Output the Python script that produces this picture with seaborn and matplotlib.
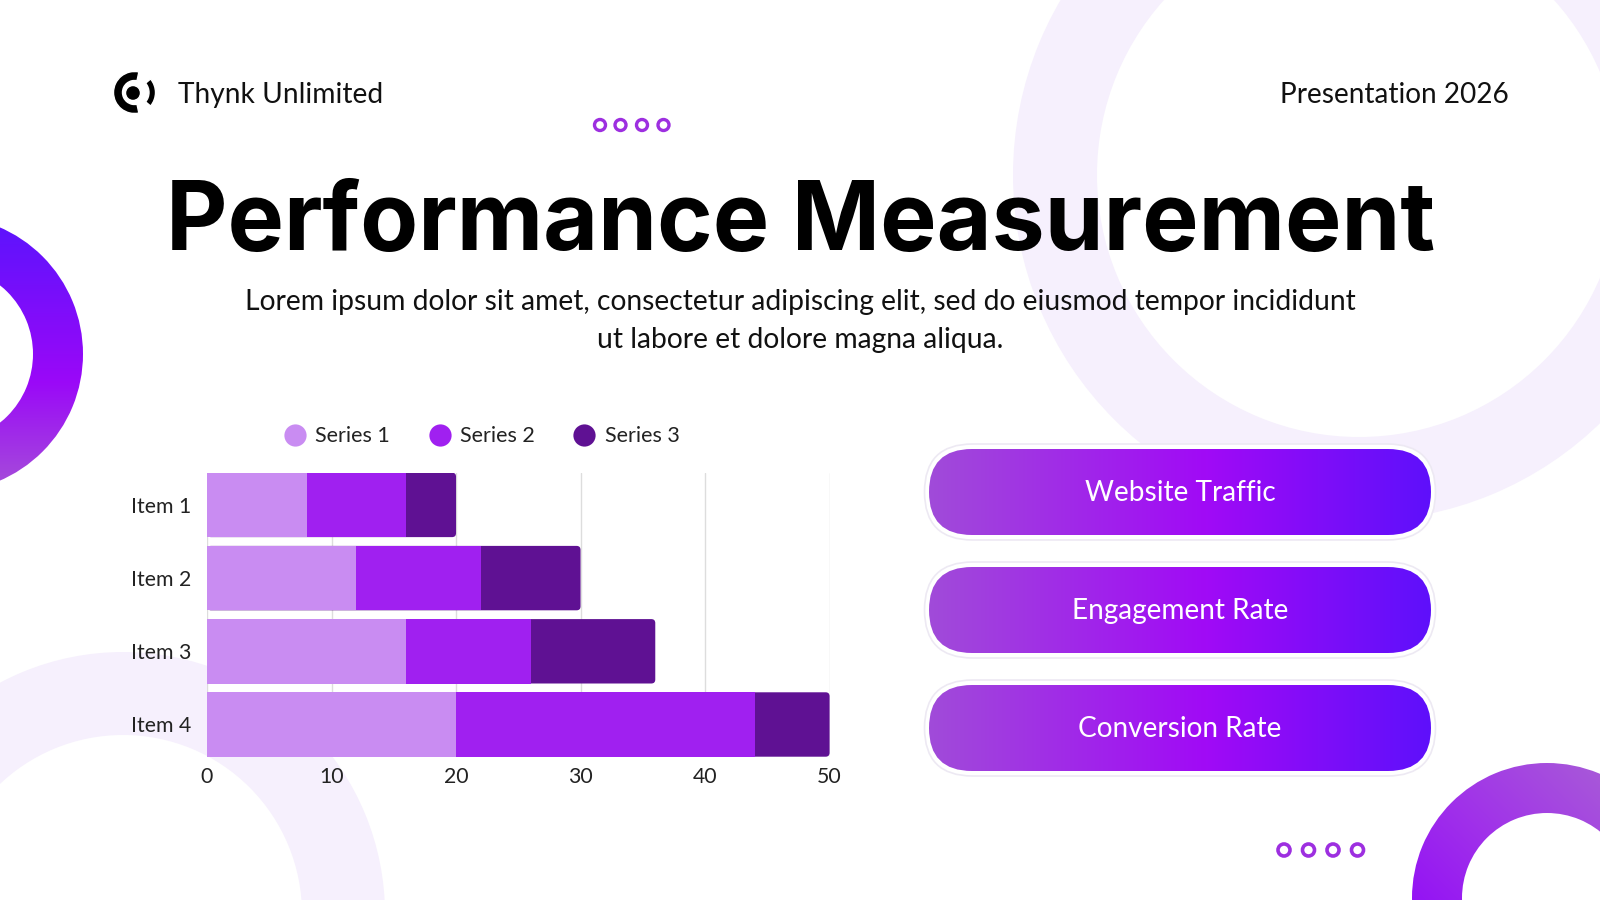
import numpy as np
import matplotlib
matplotlib.use('Agg')
import matplotlib.pyplot as plt
import seaborn as sns
from matplotlib.patches import Circle, Wedge, FancyBboxPatch
from matplotlib.lines import Line2D
from matplotlib.colors import LinearSegmentedColormap

# data
items = ['Item 1', 'Item 2', 'Item 3', 'Item 4']
series_names = ['Series 1', 'Series 2', 'Series 3']
series_1 = [8, 12, 16, 20]
series_2 = [8, 10, 10, 24]
series_3 = [4, 8, 10, 6]
x_ticks = [0, 10, 20, 30, 40, 50]
buttons = ['Website Traffic', 'Engagement Rate', 'Conversion Rate']

bar_colors = ['#c98cf2', '#a020f0', '#5f1193']
lavender = '#f6f0fd'
dot_color = '#9d2fe0'

sns.set_theme(style='white')
plt.rcParams['font.family'] = ['Lato', 'DejaVu Sans']

fig = plt.figure(figsize=(16, 9), dpi=100)
fig.patch.set_facecolor('white')

# background layer in pixel coords (y down)
bg = fig.add_axes([0, 0, 1, 1])
bg.set_zorder(0)
bg.axis('off')


def set_bg_limits():
    bg.set_aspect('auto')
    bg.set_xlim(0, 1600)
    bg.set_ylim(900, 0)


set_bg_limits()


def gradient_fill(clip, extent, stops, angle, zorder=1):
    n = 256
    xs = np.linspace(-1, 1, n)
    X, Y = np.meshgrid(xs, xs)
    ux, uy = np.cos(np.radians(angle)), np.sin(np.radians(angle))
    val = np.clip((X * ux + Y * uy + 1) / 2, 0, 1)
    cmap = LinearSegmentedColormap.from_list('g', stops)
    im = bg.imshow(val, cmap=cmap, extent=extent, origin='upper',
                   zorder=zorder, interpolation='bilinear')
    im.set_clip_path(clip)
    return im


def gradient_ring(cx, cy, r_out, r_in, stops, angle):
    ring = Wedge((cx, cy), r_out, 0, 360, width=r_out - r_in,
                 facecolor='none', edgecolor='none')
    bg.add_patch(ring)
    gradient_fill(ring, (cx - r_out, cx + r_out, cy + r_out, cy - r_out), stops, angle)


# light decorative rings
bg.add_patch(Wedge((1359, 175), 346, 0, 360, width=84, facecolor=lavender, edgecolor='none', zorder=0.5))
bg.add_patch(Wedge((123, 914), 262, 0, 360, width=83, facecolor=lavender, edgecolor='none', zorder=0.5))

# gradient rings
gradient_ring(-55, 354, 138, 88, [(0, '#5a14fd'), (0.6, '#9a08f8'), (1, '#a650d8')], 90)
gradient_ring(1547, 898, 135, 85, [(0, '#a85ad8'), (0.5, '#a030ea'), (1, '#8f08f8')], 135)

# small dot rows
for x in [600, 620.5, 642, 663.5]:
    bg.add_patch(Circle((x, 125), 5.5, facecolor='none', edgecolor=dot_color, lw=2.4, zorder=2))
for x in [1284, 1308.5, 1333, 1357.5]:
    bg.add_patch(Circle((x, 850), 6, facecolor='none', edgecolor=dot_color, lw=2.6, zorder=2))

# logo
bg.add_patch(Wedge((134.5, 92.5), 21, 78, 282, width=9, facecolor='black', zorder=3))
bg.add_patch(Wedge((134.5, 92.5), 21, -40, 40, width=6.5, facecolor='black', zorder=3))
bg.add_patch(Circle((133, 93), 7.5, facecolor='black', zorder=3))

renderer = fig.canvas.get_renderer()


def fit_text(x, y, s, width, **kw):
    t = bg.text(x, y, s, **kw)
    w = t.get_window_extent(renderer=renderer).width
    t.set_fontsize(t.get_fontsize() * width / w)
    return t


fit_text(177.5, 103, 'Thynk Unlimited', 205, fontsize=20, color='#111111', va='baseline', ha='left')
fit_text(1509, 103, 'Presentation 2026', 229, fontsize=20, color='#111111', va='baseline', ha='right')
fit_text(801, 250, 'Performance Measurement', 1271, fontsize=70, fontweight='bold',
         family=['Inter', 'DejaVu Sans'], color='black', va='baseline', ha='center')
sub = fit_text(800.5, 310, 'Lorem ipsum dolor sit amet, consectetur adipiscing elit, sed do eiusmod tempor incididunt',
               1111, fontsize=19, color='#111111', va='baseline', ha='center')
bg.text(800, 348, 'ut labore et dolore magna aliqua.', fontsize=sub.get_fontsize(),
        color='#111111', va='baseline', ha='center')

# buttons
pill_x, pill_w, pill_h = 929, 502, 86
pill_centers = [492, 610, 728]
btn_widths = [187, 222, 203]
btn_stops = [(0, '#a04bd9'), (0.55, '#a10af6'), (1, '#5e10fb')]
btn_texts = []
for label, cy, tw in zip(buttons, pill_centers, btn_widths):
    halo = FancyBboxPatch((pill_x - 4.5, cy - pill_h / 2 - 5), pill_w + 9, pill_h + 10,
                          boxstyle='round,pad=0,rounding_size=48', facecolor='white',
                          edgecolor='#ede9f3', lw=1.2, zorder=2)
    bg.add_patch(halo)
    pill = FancyBboxPatch((pill_x, cy - pill_h / 2), pill_w, pill_h,
                          boxstyle='round,pad=0,rounding_size=43', facecolor='none',
                          edgecolor='none', zorder=3)
    bg.add_patch(pill)
    gradient_fill(pill, (pill_x, pill_x + pill_w, cy + pill_h / 2, cy - pill_h / 2), btn_stops, 0, zorder=3)
    btn_texts.append(fit_text(pill_x + pill_w / 2, cy + 1, label, tw, fontsize=20, color='white',
                              ha='center', va='center', zorder=4))
btn_size = np.mean([t.get_fontsize() for t in btn_texts])
for t in btn_texts:
    t.set_fontsize(btn_size)

set_bg_limits()

# chart
ax = fig.add_axes([207 / 1600, 1 - 756.7 / 900, (829.6 - 207) / 1600, (756.7 - 472.7) / 900])
ax.set_zorder(2)
ax.set_facecolor('white')

s1 = np.array(series_1)
s2 = np.array(series_2)
s3 = np.array(series_3)
layers = [s1 + s2 + s3, s1 + s2, s1]
for k, (vals, c) in enumerate(zip(layers, bar_colors[::-1])):
    sns.barplot(x=vals, y=items, orient='h', color=c, saturation=1, width=0.88,
                edgecolor='none', linewidth=0, ax=ax)
    if k == 0:
        # round the right end of the full stacks
        for p in list(ax.patches):
            x, y, w, h = p.get_x(), p.get_y(), p.get_width(), p.get_height()
            p.remove()
            ax.add_patch(FancyBboxPatch((x, y), w, h, boxstyle='round,pad=0,rounding_size=0.32',
                                        mutation_aspect=0.17, facecolor=c, edgecolor='none'))

ax.set_xlim(0, 50)
ax.set_ylim(3.44, -0.44)
ax.set_xticks(x_ticks)
ax.set_xlabel('')
ax.set_ylabel('')
ax.grid(axis='x', color='#dddddd', lw=1)
ax.grid(axis='y', visible=False)
ax.set_axisbelow(True)
for sp in ax.spines.values():
    sp.set_visible(False)
ax.tick_params(axis='y', length=0, pad=11, labelsize=15.3, labelcolor='#222222')
ax.tick_params(axis='x', length=0, pad=7.5, labelsize=15.3, labelcolor='#222222')

handles = [Line2D([0], [0], marker='o', ls='', markersize=16, markerfacecolor=c,
                  markeredgecolor='none') for c in bar_colors]
ax.legend(handles, series_names, loc='center', bbox_to_anchor=(482 / 1600, 1 - 436.5 / 900),
          bbox_transform=fig.transFigure, ncol=3, frameon=False, fontsize=15.5,
          handletextpad=0.45, columnspacing=1.8, handlelength=1.0, labelcolor='#222222')

fig.savefig('out.png', dpi=100, facecolor='white')
